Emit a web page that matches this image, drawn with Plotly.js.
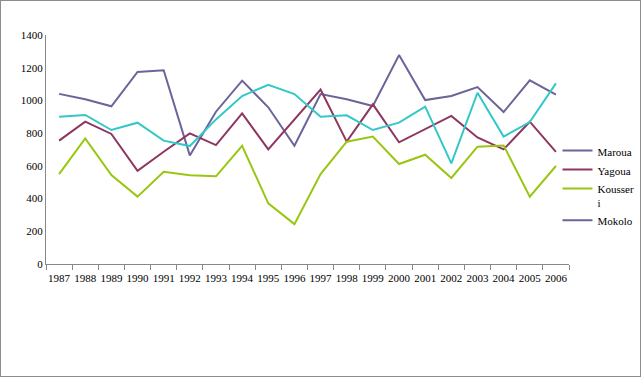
<!DOCTYPE html>
<html><head><meta charset="utf-8">
<script src="https://cdn.plot.ly/plotly-3.0.1.min.js"></script>
<style>
html,body{margin:0;padding:0;background:#fff;}
#wrap{width:641px;height:377px;box-sizing:border-box;border:1px solid #8c8c8c;}
#chart{width:639px;height:375px;}
</style></head>
<body><div id="wrap"><div id="chart"></div></div>
<script>
const years = ["1987","1988","1989","1990","1991","1992","1993","1994","1995","1996","1997","1998","1999","2000","2001","2002","2003","2004","2005","2006"];
const maroua = [1040,1007,964,1174,1184,664,931,1121,958,723,1039,1007,966,1277,1002,1027,1082,929,1123,1035];
const yagoua = [754,870,795,570,686,799,727,921,701,884,1066,748,976,744,823,905,774,701,870,686];
const kousseri = [550,768,544,412,564,542,536,723,371,244,550,748,779,611,668,526,717,725,412,599];
const mokolo = [900,911,819,864,754,721,884,1027,1096,1039,900,909,819,864,962,615,1047,779,868,1104];
const seriesNames = ["Maroua","Yagoua","Kousser<br>i","Mokolo"];
const yTicks = [0,200,400,600,800,1000,1200,1400];

const FONT = "Liberation Serif";
const cPurple = "#6B6499", cMaroon = "#8E3560", cGreen = "#99C612", cCyan = "#33C8C8";
const lw = 2;
const traces = [
  {x: years, y: maroua, name: seriesNames[0], type: "scatter", mode: "lines", line: {color: cPurple, width: lw}},
  {x: years, y: yagoua, name: seriesNames[1], type: "scatter", mode: "lines", line: {color: cMaroon, width: lw}},
  {x: years, y: kousseri, name: seriesNames[2], type: "scatter", mode: "lines", line: {color: cGreen, width: lw}},
  {x: years, y: mokolo, name: seriesNames[3], type: "scatter", mode: "lines", line: {color: cCyan, width: lw}, showlegend: false},
  {x: [null], y: [null], name: seriesNames[3], type: "scatter", mode: "lines", line: {color: cPurple, width: lw}}
];
const layout = {
  width: 639, height: 375,
  margin: {l: 45, r: 71, t: 34, b: 112, autoexpand: false},
  paper_bgcolor: "#fff", plot_bgcolor: "#fff",
  font: {family: FONT, size: 11, color: "#000"},
  showlegend: true,
  legend: {x: 0.978, y: 0.555, xanchor: "left", yanchor: "top", valign: "top", font: {family: FONT, size: 11, color: "#000"}, tracegroupgap: 0, itemwidth: 30, bgcolor: "rgba(0,0,0,0)"},
  xaxis: {type: "category", range: [-0.5, 19.5], tickson: "boundaries", ticks: "outside", ticklen: 5, tickcolor: "#888", showline: true, linecolor: "#888", linewidth: 1, showgrid: false, zeroline: false, tickangle: 0, ticklabelstandoff: 4, tickfont: {family: FONT, size: 11}},
  yaxis: {range: [0, 1400], tickvals: yTicks, ticktext: yTicks.map(String), showline: true, linecolor: "#888", linewidth: 1, showgrid: false, zeroline: false, ticks: "", ticklen: 0, tickfont: {family: FONT, size: 11}}
};
Plotly.newPlot("chart", traces, layout, {displayModeBar: false, staticPlot: true});
</script></body></html>
